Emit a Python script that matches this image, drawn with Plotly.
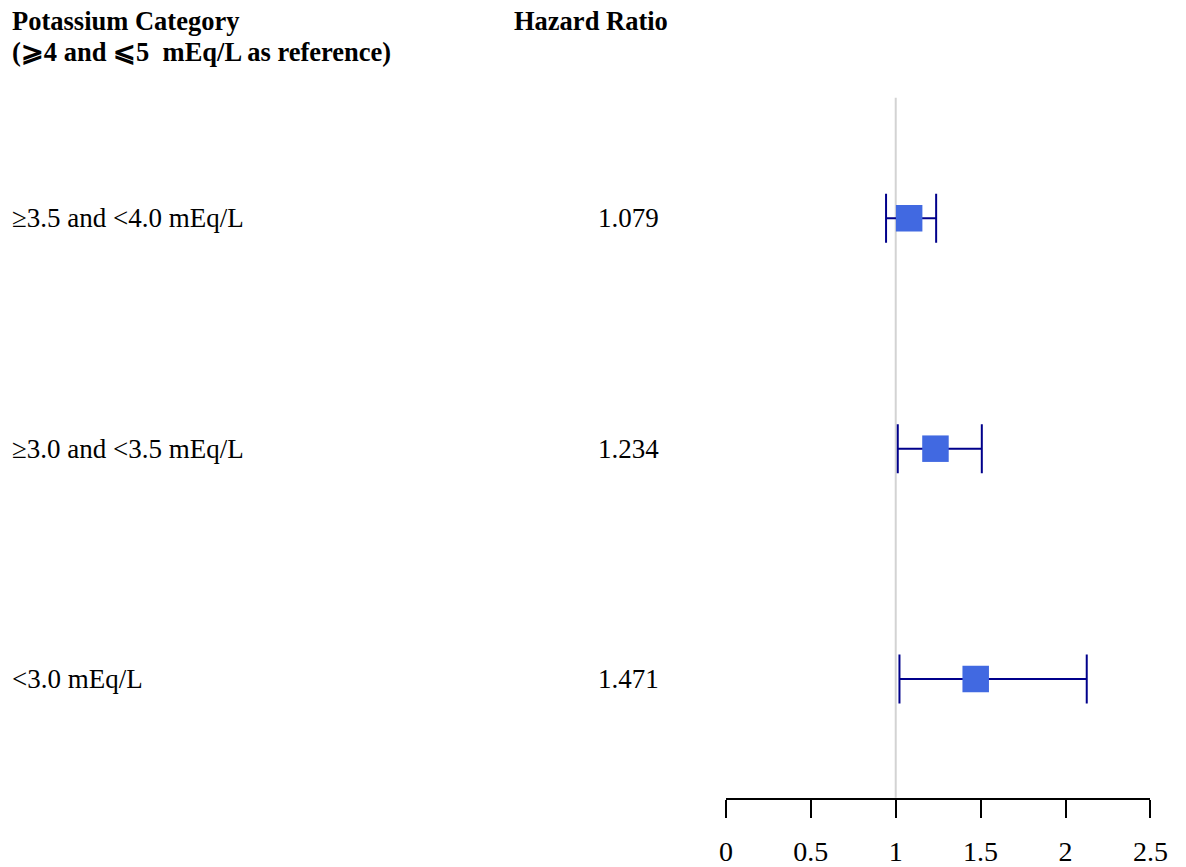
import plotly.graph_objects as go

categories = ["≥3.5 and <4.0 mEq/L", "≥3.0 and <3.5 mEq/L", "<3.0 mEq/L"]
hr = [1.079, 1.234, 1.471]
ci_low = [0.943, 1.012, 1.022]
ci_high = [1.238, 1.507, 2.125]
hr_labels = ["1.079", "1.234", "1.471"]
tick_vals = [0, 0.5, 1, 1.5, 2, 2.5]
tick_text = ["0", "0.5", "1", "1.5", "2", "2.5"]

W, H = 1186, 867
FONT = "Liberation Serif, Times New Roman, serif"

# calibration of the page photo: image_x ~ 7.5 + 0.979 * figure_x, image_y ~ 0.996 * figure_y
SX, OX, SY = 0.979, 7.5, 0.996


def px(xi):  # target image x -> paper x
    return ((xi - OX) / SX) / W


def py(yi):  # target image y -> paper y
    return (H - yi / SY) / H


n = len(categories)
ypos = [n - i for i in range(n)]  # top row highest

fig = go.Figure()
fig.add_trace(go.Scatter(
    x=hr, y=ypos, mode="markers",
    marker=dict(symbol="square", size=26.5, color="#4169E1", line=dict(width=0)),
    error_x=dict(type="data", symmetric=False,
                 array=[h - x for h, x in zip(ci_high, hr)],
                 arrayminus=[x - l for l, x in zip(ci_low, hr)],
                 color="#00008B", thickness=2, width=24.5),
    showlegend=False, hoverinfo="skip",
))

# reference line at HR = 1
fig.add_shape(type="line", xref="x", yref="paper", x0=1, x1=1,
              y0=py(800), y1=py(98),
              line=dict(color="#d3d3d3", width=2), layer="below")

ann = []
ann.append(dict(text="<b>Potassium Category</b>", x=px(11), y=py(21),
                xref="paper", yref="paper", xanchor="left", yanchor="middle",
                showarrow=False, font=dict(size=26.5, family=FONT, color="black")))
ann.append(dict(text="<b>(⩾4 and ⩽5\u00a0 mEq/L as reference)</b>", x=px(11), y=py(52),
                xref="paper", yref="paper", xanchor="left", yanchor="middle",
                showarrow=False, font=dict(size=26.5, family=FONT, color="black")))
ann.append(dict(text="<b>Hazard Ratio</b>", x=px(513), y=py(21),
                xref="paper", yref="paper", xanchor="left", yanchor="middle",
                showarrow=False, font=dict(size=26.5, family=FONT, color="black")))
for c, lab, y in zip(categories, hr_labels, ypos):
    ann.append(dict(text=c, x=px(11), y=y, xref="paper", yref="y",
                    xanchor="left", yanchor="middle", showarrow=False,
                    font=dict(size=27, family=FONT, color="black")))
    ann.append(dict(text=lab, x=px(662), y=y, xref="paper", yref="y",
                    xanchor="right", yanchor="middle", showarrow=False,
                    font=dict(size=27, family=FONT, color="black")))

# row mapping: top row at image px 219, bottom row at image px 681
top_px, bot_px = 219, 681
unit = (bot_px - top_px) / (n - 1)
y_lo = 1 - (800 - bot_px) / unit
y_hi = n + (top_px - 98) / unit

fig.update_layout(
    width=W, height=H,
    margin=dict(l=0, r=0, t=0, b=0),
    paper_bgcolor="white", plot_bgcolor="white",
    annotations=ann,
    xaxis=dict(domain=[px(726.5), px(1151)], range=[0, 2.5],
               tickvals=tick_vals, ticktext=tick_text,
               showline=True, linecolor="black", linewidth=2,
               ticks="outside", ticklen=18, tickwidth=2, tickcolor="black",
               showgrid=False, zeroline=False, ticklabelstandoff=10,
               tickfont=dict(size=28, family=FONT, color="black")),
    yaxis=dict(domain=[py(800), py(98)], range=[y_lo, y_hi],
               visible=False, showgrid=False, zeroline=False),
)

fig.write_html("out.html")
